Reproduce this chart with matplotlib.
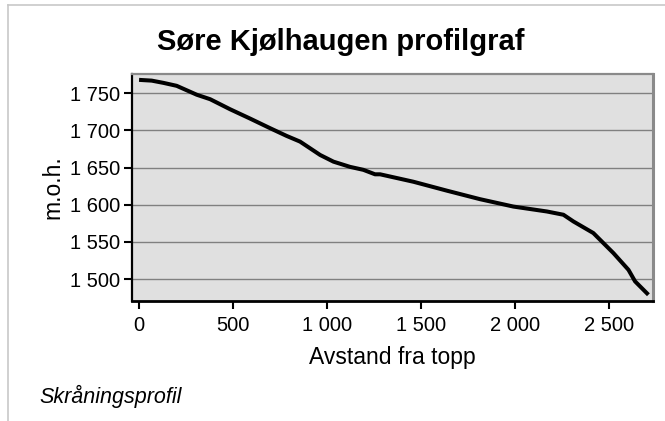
import matplotlib.pyplot as plt
from matplotlib.lines import Line2D
from matplotlib.ticker import FuncFormatter, MultipleLocator

plt.rcParams['font.family'] = ['Liberation Sans', 'DejaVu Sans']

# profile: distance from top (m), height (m.o.h.)
avstand = [0, 67, 129, 200, 307, 378, 484, 590, 697, 785, 856, 963, 1034,
           1122, 1193, 1255, 1282, 1459, 1637, 1814, 1991, 2169, 2257, 2310,
           2416, 2523, 2603, 2638, 2709]
hoyde = [1768, 1767, 1764, 1760, 1748, 1742, 1728.5, 1716, 1703, 1692.6,
         1685, 1667, 1658, 1651, 1647, 1641, 1641, 1631, 1619, 1607.5,
         1597.6, 1591, 1586.6, 1577.6, 1562, 1535, 1512.5, 1497, 1479]

title = "Søre Kjølhaugen profilgraf"
xlabel = "Avstand fra topp"
ylabel = "m.o.h."
caption = "Skråningsprofil"


def space_thousands(v, pos):
    return f"{v:,.0f}".replace(",", " ")


fig = plt.figure(figsize=(6.65, 4.21), dpi=100)
ax = fig.add_axes([132.3 / 665, 1 - 300.7 / 421, 521 / 665, 226.4 / 421])
ax.set_facecolor("#e0e0e0")

ax.plot(avstand, hoyde, color="black", linewidth=2.9, solid_capstyle="butt")

ax.set_xlim(-36, 2735)
ax.set_ylim(1471, 1775.5)
ax.xaxis.set_major_locator(MultipleLocator(500))
ax.yaxis.set_major_locator(MultipleLocator(50))
ax.xaxis.set_major_formatter(FuncFormatter(space_thousands))
ax.yaxis.set_major_formatter(FuncFormatter(space_thousands))
ax.grid(axis="y", color="#808080", linewidth=1.0)
ax.set_axisbelow(True)

ax.spines["top"].set_color("#8a8a8a")
ax.spines["top"].set_linewidth(1.6)
ax.spines["right"].set_color("#8a8a8a")
ax.spines["right"].set_linewidth(2.2)
ax.spines["left"].set_linewidth(1.6)
ax.spines["bottom"].set_linewidth(2.0)

ax.tick_params(axis="both", labelsize=14.5, length=6, width=1.5)
ax.tick_params(axis="x", pad=5)
ax.tick_params(axis="y", pad=3)

ax.set_xlabel(xlabel, fontsize=16.5, va="center")
ax.xaxis.set_label_coords(0.5, (300.7 - 357.5) / 226.4)
ax.set_ylabel(ylabel, fontsize=16.5, va="center")
ax.yaxis.set_label_coords((53 - 132.3) / 521, 0.5)

fig.text(341 / 665, 1 - 41.5 / 421, title, fontsize=21, fontweight="bold",
         ha="center", va="center")
fig.text(39 / 665, 1 - 396 / 421, caption, fontsize=15.5, style="italic",
         ha="left", va="center")

# thin grey frame at left and top edge
fig.add_artist(Line2D([7.5 / 665, 7.5 / 665], [0, 1 - 5 / 421],
                      color="#c8c8c8", linewidth=1.2))
fig.add_artist(Line2D([7.5 / 665, 1], [1 - 5 / 421, 1 - 5 / 421],
                      color="#c8c8c8", linewidth=1.2))

fig.savefig("out.png", dpi=100)
